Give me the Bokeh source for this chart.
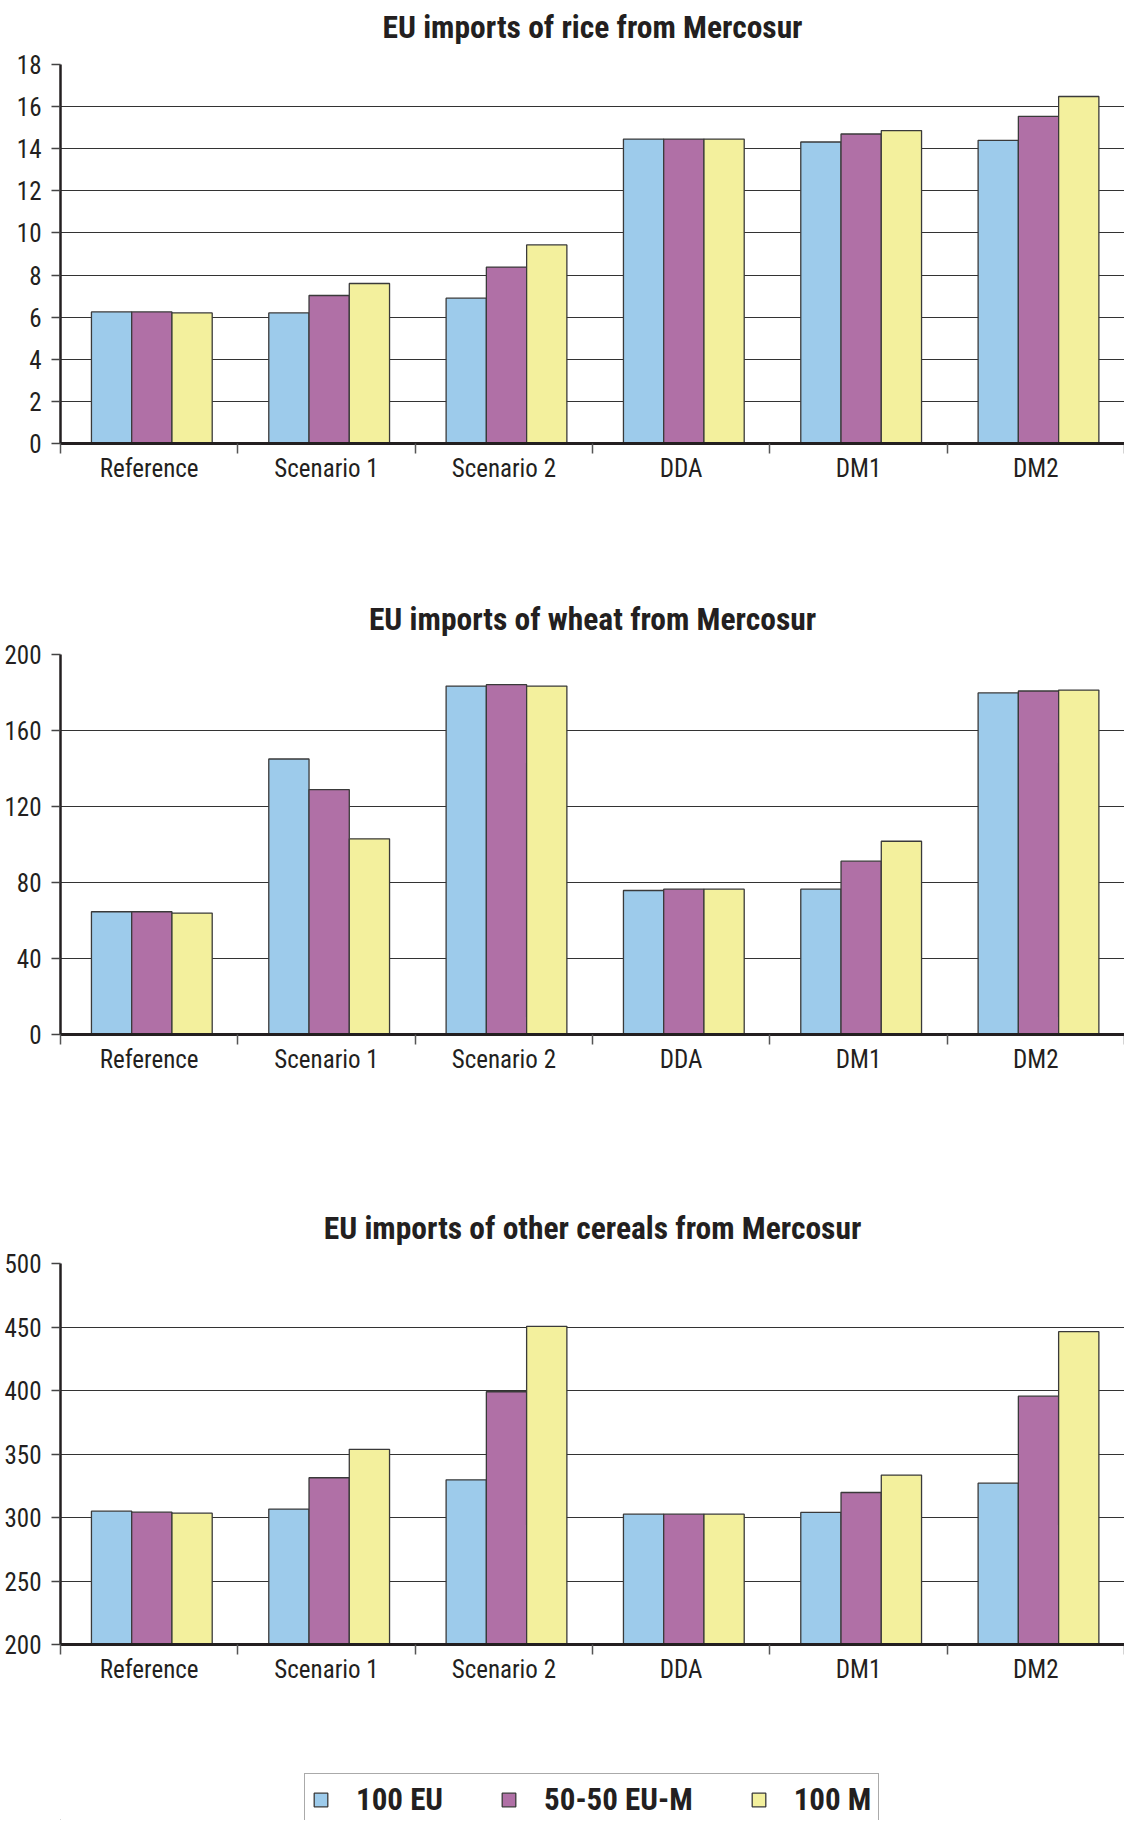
import numpy as np
from bokeh.plotting import figure
from bokeh.models import Range1d, FixedTicker, ColumnDataSource, Legend, LegendItem
from bokeh.core.properties import value
from bokeh.layouts import column
from bokeh.embed import file_html
from bokeh.resources import INLINE

categories = ["Reference", "Scenario 1", "Scenario 2", "DDA", "DM1", "DM2"]
series = ["100 EU", "50-50 EU-M", "100 M"]
colors = ["#9dcbeb", "#b070a6", "#f3f09d"]

rice_100eu = [6.25, 6.2, 6.9, 14.46, 14.32, 14.4]
rice_5050 = [6.25, 7.03, 8.38, 14.46, 14.7, 15.54]
rice_100m = [6.2, 7.6, 9.43, 14.46, 14.86, 16.48]

wheat_100eu = [64.6, 145.0, 183.4, 75.8, 76.5, 179.8]
wheat_5050 = [64.6, 128.9, 184.1, 76.5, 91.2, 180.8]
wheat_100m = [63.9, 103.0, 183.4, 76.5, 101.7, 181.3]

cereal_100eu = [305.0, 306.6, 329.7, 302.6, 304.0, 327.0]
cereal_5050 = [304.2, 331.3, 399.0, 302.6, 319.7, 395.5]
cereal_100m = [303.4, 353.7, 450.5, 302.6, 333.4, 446.3]

rice_ticks = [0, 2, 4, 6, 8, 10, 12, 14, 16, 18]
wheat_ticks = [0, 40, 80, 120, 160, 200]
cereal_ticks = [200, 250, 300, 350, 400, 450, 500]

titles = ["EU imports of rice from Mercosur",
          "EU imports of wheat from Mercosur",
          "EU imports of other cereals from Mercosur"]

FONT = "'Roboto Condensed', 'Liberation Sans Narrow', 'DejaVu Sans Condensed', 'Arial Narrow', Roboto, sans-serif"
TXT = "#231f20"
BAR_W = 0.227
GROUP_SHIFT = 0.015
FRAME_W = 1064
LEFT = 60


def title_strip(text, height, center_from_top):
    s = figure(frame_width=FRAME_W, frame_height=height,
               min_border_left=LEFT, min_border_right=0,
               min_border_top=0, min_border_bottom=0,
               x_axis_location=None, y_axis_location=None,
               x_range=Range1d(0, len(categories)), y_range=Range1d(height, 0),
               output_backend="svg", toolbar_location=None)
    s.outline_line_color = None
    s.grid.grid_line_color = None
    s.text(x=[len(categories) / 2], y=[center_from_top], text=[text],
           text_font=value(FONT), text_font_size="31.5px", text_font_style="bold",
           text_color=TXT, text_align="center", text_baseline="middle")
    return s


def make_chart(vals, yticks, frame_h, border_bottom):
    p = figure(frame_width=FRAME_W, frame_height=frame_h,
               min_border_left=LEFT, min_border_right=0,
               min_border_top=15, min_border_bottom=border_bottom,
               x_range=Range1d(0, len(categories)),
               y_range=Range1d(yticks[0], yticks[-1]),
               output_backend="svg", toolbar_location=None)
    p.outline_line_color = None
    p.xgrid.grid_line_color = None
    p.ygrid.grid_line_color = "#333333"
    p.ygrid.grid_line_width = 1.2
    p.ygrid.ticker = FixedTicker(ticks=yticks)

    base = yticks[0]
    idx = np.arange(len(categories)) + 0.5
    for k, (v, c) in enumerate(zip(vals, colors)):
        src = ColumnDataSource(dict(x=idx + (k - 1) * BAR_W + GROUP_SHIFT, top=v))
        p.vbar(x="x", top="top", bottom=base, width=BAR_W, source=src,
               fill_color=c, line_color="#3a3a3a", line_width=1.3)

    xa = p.xaxis[0]
    xa.ticker = FixedTicker(ticks=list(idx), minor_ticks=list(range(len(categories) + 1)))
    xa.major_label_overrides = {float(t): c for t, c in zip(idx, categories)}
    xa.major_tick_line_color = None
    xa.major_tick_out = 0
    xa.major_tick_in = 0
    xa.minor_tick_line_color = "#555555"
    xa.minor_tick_line_width = 1.5
    xa.minor_tick_out = 10
    xa.minor_tick_in = 0
    xa.axis_line_color = TXT
    xa.axis_line_width = 3
    xa.major_label_text_font = FONT
    xa.major_label_text_font_size = "25px"
    xa.major_label_text_color = TXT
    xa.major_label_standoff = 0

    ya = p.yaxis[0]
    ya.ticker = FixedTicker(ticks=yticks)
    ya.axis_line_color = TXT
    ya.axis_line_width = 2.5
    ya.major_tick_line_color = "#444444"
    ya.major_tick_line_width = 1.5
    ya.major_tick_out = 9
    ya.major_tick_in = 0
    ya.minor_tick_line_color = None
    ya.major_label_text_font = FONT
    ya.major_label_text_font_size = "25px"
    ya.major_label_text_color = TXT
    ya.major_label_standoff = 10
    return p


t1 = title_strip(titles[0], 49, 27)
p1 = make_chart([rice_100eu, rice_5050, rice_100m], rice_ticks, 379, 156)
t2 = title_strip(titles[1], 40, 20)
p2 = make_chart([wheat_100eu, wheat_5050, wheat_100m], wheat_ticks, 380, 174)
t3 = title_strip(titles[2], 40, 20)
p3 = make_chart([cereal_100eu, cereal_5050, cereal_100m], cereal_ticks, 381, 126)

LEG_H = 50
pl = figure(width=1124, height=LEG_H, min_border=0, output_backend="svg",
            toolbar_location=None, x_range=Range1d(0, 1), y_range=Range1d(0, 1))
pl.outline_line_color = None
pl.axis.visible = False
pl.grid.grid_line_color = None
items = []
for s, c in zip(series, colors):
    # legend proxy kept outside the visible range of this strip
    r = pl.vbar(x=[-5], top=[-5], bottom=[-6], width=0.1, fill_color=c,
                line_color="#3a3a3a", line_width=1.3)
    items.append(LegendItem(label=s, renderers=[r]))
leg = Legend(items=items, orientation="horizontal", location=(244, -6))
leg.label_text_font = FONT
leg.label_text_font_size = "31px"
leg.label_text_font_style = "bold"
leg.label_text_color = TXT
leg.glyph_width = 17
leg.glyph_height = 17
leg.label_height = 37
leg.label_standoff = 27
leg.spacing = 57
leg.padding = 7
leg.margin = 0
leg.border_line_color = "#555555"
leg.border_line_width = 1.5
leg.background_fill_alpha = 0
pl.add_layout(leg, "center")

layout = column(t1, p1, t2, p2, t3, p3, pl, spacing=0)
open("out.html", "w").write(file_html(layout, INLINE))
